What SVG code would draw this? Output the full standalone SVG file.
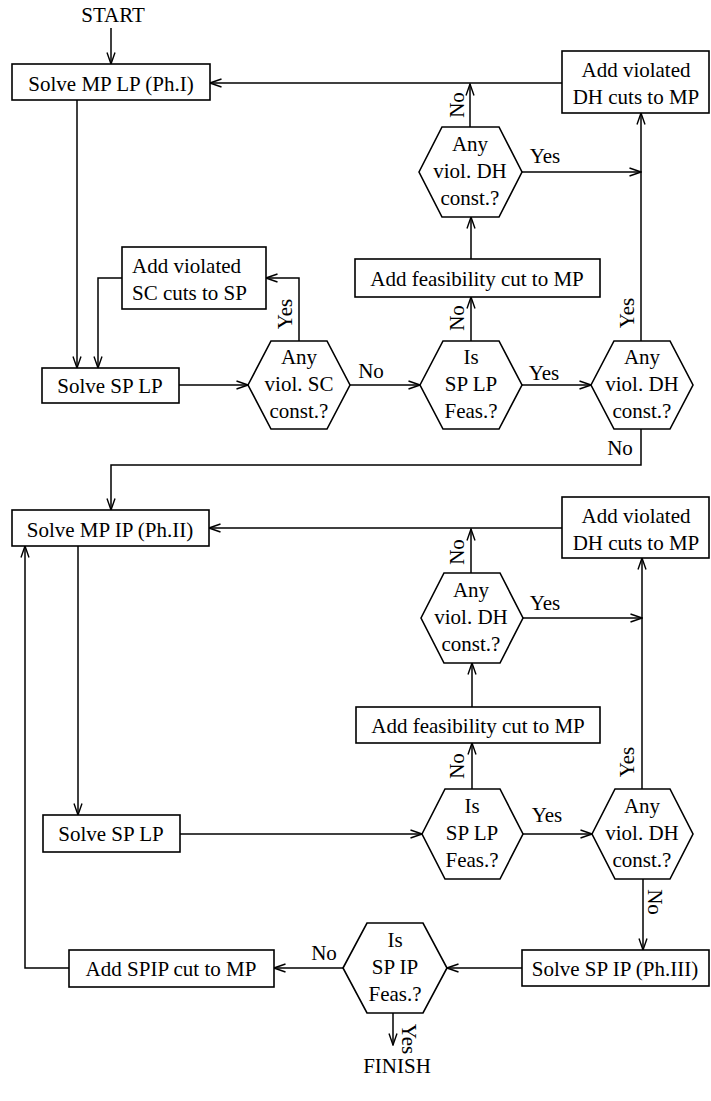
<svg xmlns="http://www.w3.org/2000/svg" width="711" height="1101" viewBox="0 0 711 1101">
<defs>
<marker id="ah" markerUnits="userSpaceOnUse" markerWidth="13" markerHeight="10" viewBox="0 0 13 10" refX="12" refY="5" orient="auto">
<path d="M0.5,1 L12,5 L0.5,9" fill="none" stroke="#000" stroke-width="1.4"/>
</marker>
</defs>
<style>
text{font-family:"Liberation Serif","Times New Roman",serif;font-size:21px;fill:#000}
.m{text-anchor:middle}
.n rect,.n polygon{fill:#fff;stroke:#000;stroke-width:1.6}
#conn path{fill:none;stroke:#000;stroke-width:1.5;marker-end:url(#ah)}
#conn path.p{marker-end:none}
</style>
<rect width="711" height="1101" fill="#fff"/>
<g id="conn">
<path d="M111,28 V64"/>
<path d="M562,83 H210"/>
<path d="M470,127 V84"/>
<path d="M522,172 H641"/>
<path d="M641,341 V113"/>
<path d="M471,259 V217"/>
<path d="M471,341 V297"/>
<path d="M522,385 H591"/>
<path d="M350,385 H420"/>
<path d="M179,385 H248"/>
<path d="M299,341 V278 H266"/>
<path d="M122,278 H98 V368"/>
<path d="M77,100 V368"/>
<path d="M641,429 V465 H111 V510"/>
<path d="M562,528 H209"/>
<path d="M471,573 V529"/>
<path d="M523,618 H642"/>
<path d="M642,789 V558"/>
<path d="M472,707 V663"/>
<path d="M472,789 V743"/>
<path d="M180,834 H422"/>
<path d="M523,834 H592"/>
<path d="M78,546 V815"/>
<path d="M643,879 V950"/>
<path d="M522,968 H447"/>
<path d="M343,968 H274"/>
<path d="M69,968 H25 V546"/>
<path d="M393,1013 V1045"/>
</g>
<g id="labels">
<text class="m" x="113" y="22">START</text>
<text class="m" x="397" y="1073">FINISH</text>
<text class="m" x="545" y="163">Yes</text>
<text class="m" x="371" y="378">No</text>
<text class="m" x="544" y="380">Yes</text>
<text class="m" x="620" y="455">No</text>
<text class="m" x="545" y="610">Yes</text>
<text class="m" x="547" y="822">Yes</text>
<text class="m" x="324" y="960">No</text>
<text class="m" transform="translate(464,105) rotate(-90)">No</text>
<text class="m" transform="translate(292,314) rotate(-90)">Yes</text>
<text class="m" transform="translate(464,318) rotate(-90)">No</text>
<text class="m" transform="translate(634,313) rotate(-90)">Yes</text>
<text class="m" transform="translate(464,552) rotate(-90)">No</text>
<text class="m" transform="translate(464,766) rotate(-90)">No</text>
<text class="m" transform="translate(634,762) rotate(-90)">Yes</text>
<text class="m" transform="translate(648,902) rotate(90)">No</text>
<text class="m" transform="translate(402,1039) rotate(90)">Yes</text>
</g>
<g id="n-mplp" class="n"><rect x="12" y="64" width="198" height="36"/><text class="m" x="111" y="91">Solve MP LP (Ph.I)</text></g>
<g id="n-dh1" class="n"><rect x="562" y="51" width="147" height="62"/><text class="m" x="636" y="77">Add violated</text><text class="m" x="636" y="104">DH cuts to MP</text></g>
<g id="n-h1" class="n"><polygon points="419,172 442,127 499,127 522,172 499,217 442,217"/><text class="m" x="470" y="151">Any</text><text class="m" x="470" y="178">viol. DH</text><text class="m" x="470" y="205">const.?</text></g>
<g id="n-feas1" class="n"><rect x="355" y="259" width="245" height="38"/><text class="m" x="477" y="286">Add feasibility cut to MP</text></g>
<g id="n-sc" class="n"><rect x="122" y="247" width="144" height="62"/><text x="132" y="273">Add violated</text><text x="132" y="300">SC cuts to SP</text></g>
<g id="n-splp1" class="n"><rect x="42" y="368" width="137" height="35"/><text class="m" x="110" y="393">Solve SP LP</text></g>
<g id="n-h2" class="n"><polygon points="248,385 271,341 327,341 350,385 327,429 271,429"/><text class="m" x="299" y="364">Any</text><text class="m" x="299" y="391">viol. SC</text><text class="m" x="299" y="418">const.?</text></g>
<g id="n-h3" class="n"><polygon points="420,385 443,341 499,341 522,385 499,429 443,429"/><text class="m" x="471" y="364">Is</text><text class="m" x="471" y="391">SP LP</text><text class="m" x="471" y="418">Feas.?</text></g>
<g id="n-h4" class="n"><polygon points="591,385 614,341 670,341 693,385 670,429 614,429"/><text class="m" x="642" y="364">Any</text><text class="m" x="642" y="391">viol. DH</text><text class="m" x="642" y="418">const.?</text></g>
<g id="n-mpip" class="n"><rect x="12" y="510" width="197" height="36"/><text class="m" x="110" y="537">Solve MP IP (Ph.II)</text></g>
<g id="n-dh2" class="n"><rect x="562" y="497" width="147" height="61"/><text class="m" x="636" y="523">Add violated</text><text class="m" x="636" y="550">DH cuts to MP</text></g>
<g id="n-h5" class="n"><polygon points="421,618 444,573 500,573 523,618 500,663 444,663"/><text class="m" x="471" y="597">Any</text><text class="m" x="471" y="624">viol. DH</text><text class="m" x="471" y="651">const.?</text></g>
<g id="n-feas2" class="n"><rect x="356" y="707" width="244" height="36"/><text class="m" x="478" y="733">Add feasibility cut to MP</text></g>
<g id="n-splp2" class="n"><rect x="43" y="815" width="137" height="37"/><text class="m" x="111" y="841">Solve SP LP</text></g>
<g id="n-h6" class="n"><polygon points="422,834 445,789 500,789 523,834 500,879 445,879"/><text class="m" x="472" y="813">Is</text><text class="m" x="472" y="840">SP LP</text><text class="m" x="472" y="867">Feas.?</text></g>
<g id="n-h7" class="n"><polygon points="592,834 615,789 670,789 693,834 670,879 615,879"/><text class="m" x="642" y="813">Any</text><text class="m" x="642" y="840">viol. DH</text><text class="m" x="642" y="867">const.?</text></g>
<g id="n-spip" class="n"><rect x="522" y="950" width="187" height="36"/><text class="m" x="615" y="976">Solve SP IP (Ph.III)</text></g>
<g id="n-h8" class="n"><polygon points="343,968 367,923 423,923 447,968 423,1013 367,1013"/><text class="m" x="395" y="947">Is</text><text class="m" x="395" y="974">SP IP</text><text class="m" x="395" y="1001">Feas.?</text></g>
<g id="n-spipcut" class="n"><rect x="69" y="950" width="205" height="37"/><text class="m" x="171" y="976">Add SPIP cut to MP</text></g>
</svg>
